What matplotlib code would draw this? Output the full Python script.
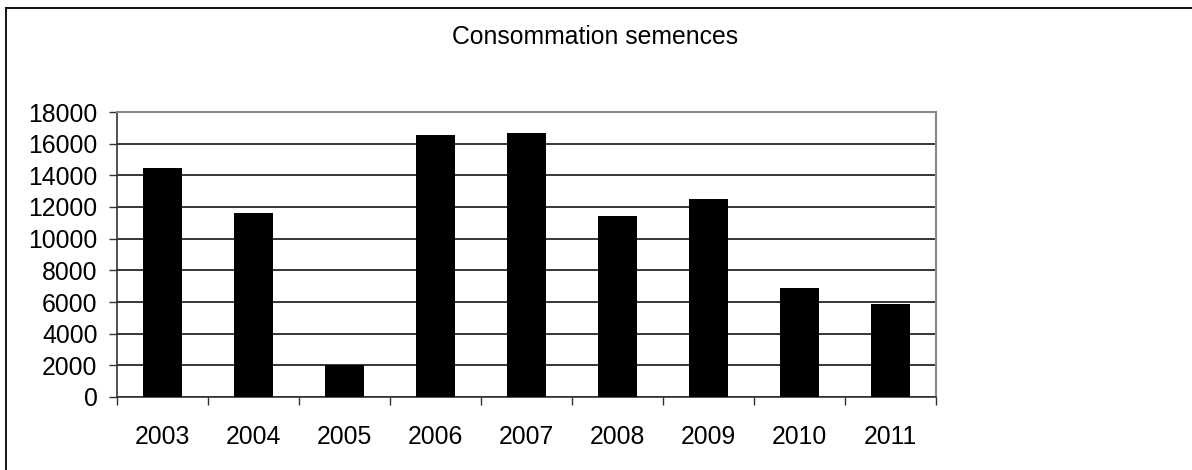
import numpy as np
import matplotlib.pyplot as plt
from matplotlib.lines import Line2D

years = ["2003", "2004", "2005", "2006", "2007", "2008", "2009", "2010", "2011"]
consommation = [14450, 11650, 2000, 16550, 16650, 11400, 12500, 6900, 5900]

plt.rcParams["font.family"] = ["Liberation Sans", "DejaVu Sans"]

fig = plt.figure(figsize=(11.92, 4.70), dpi=100)
ax = fig.add_axes([117 / 1192, 1 - 397 / 470, (936 - 117) / 1192, (397 - 112) / 470])

x = np.arange(len(years))
ax.bar(x, consommation, width=0.42, color="black", zorder=3)

ax.set_xlim(-0.5, len(years) - 0.5)
ax.set_ylim(0, 18000)
ax.set_yticks(np.arange(0, 18001, 2000))
ax.yaxis.grid(True, color="black", linewidth=1.1, zorder=0)
ax.tick_params(axis="y", labelsize=17.8, length=6, width=1, color="#333333", pad=8)

# ticks between categories, labels centred on the bars
ax.set_xticks(np.arange(-0.5, len(years), 1))
ax.set_xticklabels([])
ax.tick_params(axis="x", which="major", length=6, width=1, color="#333333")
ax.set_xticks(x, minor=True)
ax.set_xticklabels(years, minor=True)
ax.tick_params(axis="x", which="minor", length=0, labelsize=17.8, pad=20)

for side in ["top", "right"]:
    ax.spines[side].set_color("#888888")
    ax.spines[side].set_linewidth(1.5)
for side in ["left", "bottom"]:
    ax.spines[side].set_color("#333333")
    ax.spines[side].set_linewidth(1.2)

fig.text(595 / 1192, 1 - 37 / 470, "Consommation semences", ha="center", va="center", fontsize=17.8)

# border of the chart area (only top and left visible)
fig.add_artist(Line2D([6 / 1192, 6 / 1192], [0, 1 - 8 / 470], color="black", linewidth=1.3))
fig.add_artist(Line2D([6 / 1192, 1], [1 - 8 / 470, 1 - 8 / 470], color="black", linewidth=1.3))

plt.savefig("out.png", dpi=100)
